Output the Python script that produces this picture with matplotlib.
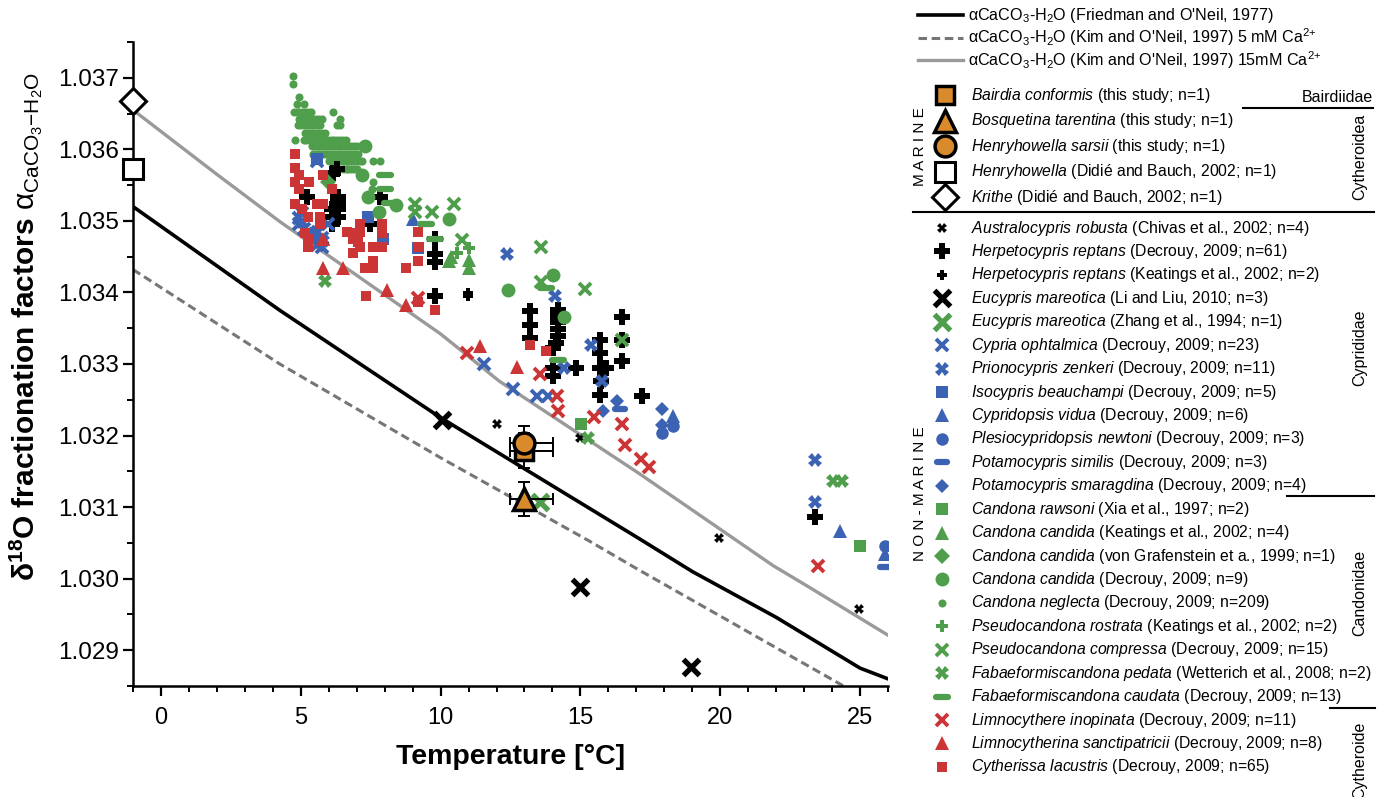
import matplotlib
matplotlib.use("Agg")
import matplotlib.pyplot as plt
from matplotlib.markers import MarkerStyle
from matplotlib.ticker import MultipleLocator, FormatStrFormatter

plt.rcParams["font.family"] = ["Liberation Sans", "DejaVu Sans"]
plt.rcParams["mathtext.fontset"] = "custom"
plt.rcParams["mathtext.rm"] = "Liberation Sans"
plt.rcParams["mathtext.it"] = "Liberation Sans:italic"
plt.rcParams["mathtext.bf"] = "Liberation Sans:bold"

# === equilibrium curves ===
friedman_t = [-1, 4.25, 10, 17.1, 19, 22, 25, 26]
friedman_a = [1.03520, 1.03375, 1.03225, 1.03056, 1.03010, 1.02946, 1.02875, 1.02860]
kim5_t = [-1, 4.25, 10, 15.3, 17.1, 24.5, 26]
kim5_a = [1.03432, 1.03300, 1.03169, 1.03053, 1.03012, 1.02848, 1.02815]
kim15_t = [-1, 2, 4.25, 10, 12.1, 17.1, 21.9, 23.1, 26]
kim15_a = [1.03655, 1.03565, 1.03499, 1.03342, 1.03276, 1.03147, 1.03018, 1.02990, 1.02921]

# === marine ostracods ===
bairdia_t, bairdia_a = [13.0], [1.03179]
bosq_t, bosq_a = [13.0], [1.03111]
henry_s_t, henry_s_a = [13.0], [1.03189]
henry_d_t, henry_d_a = [-1.0], [1.03572]
krithe_t, krithe_a = [-1.0], [1.03667]
err_t_low, err_t_high, err_a = 0.53, 1.02, 0.00024

# === non-marine ostracods ===
austro_t = [12.0, 14.98, 19.97, 24.97]
austro_a = [1.03216, 1.03196, 1.03057, 1.02958]
herp_d_t = [6.29, 6.17, 5.21, 6.34, 6.34, 6.34, 6.34, 6.11, 6.11, 6.11, 7.48, 7.83,
            9.80, 9.80, 9.80, 9.80, 13.21, 13.21, 13.21, 14.20, 14.20, 14.20, 14.20,
            14.20, 14.14, 14.02, 16.50, 15.69, 14.02, 14.02, 14.86, 15.69, 15.69,
            15.93, 15.75, 15.69, 16.50, 16.50, 17.21, 23.40]
herp_d_a = [1.03573, 1.03567, 1.03534, 1.03534, 1.03525, 1.03516, 1.03506, 1.03516,
            1.03506, 1.03495, 1.03495, 1.03533, 1.03474, 1.03454, 1.03443, 1.03395,
            1.03374, 1.03355, 1.03336, 1.03376, 1.03367, 1.03358, 1.03349, 1.03339,
            1.03330, 1.03323, 1.03365, 1.03334, 1.03295, 1.03283, 1.03294, 1.03316,
            1.03295, 1.03294, 1.03276, 1.03256, 1.03334, 1.03304, 1.03255, 1.03086]
herp_k_t = [10.97, 10.99]
herp_k_a = [1.03395, 1.03399]
euc_l_t = [10.05, 14.97, 18.96]
euc_l_a = [1.03222, 1.02988, 1.02877]
euc_z_t = [13.56]
euc_z_a = [1.03107]
cypria_t = [4.92, 4.92, 5.04, 5.10, 5.51, 5.63, 5.75, 5.99, 5.57, 5.57, 5.75, 11.55,
            12.59, 13.43, 13.84]
cypria_a = [1.03504, 1.03495, 1.03511, 1.03488, 1.03481, 1.03485, 1.03476, 1.03495,
            1.03583, 1.03467, 1.03464, 1.03300, 1.03265, 1.03255, 1.03255]
prion_t = [12.39, 14.08, 15.39, 14.40, 15.78, 23.39, 23.39, 5.04, 5.45, 5.80]
prion_a = [1.03454, 1.03395, 1.03327, 1.03294, 1.03276, 1.03166, 1.03107, 1.03499,
           1.03478, 1.03472]
iso_t = [7.42, 7.93, 9.20, 5.57]
iso_a = [1.03506, 1.03474, 1.03462, 1.03586]
vidua_t = [9.02, 18.31, 24.30, 25.90]
vidua_a = [1.03502, 1.03227, 1.03066, 1.03035]
newtoni_t = [17.93, 18.31, 25.90]
newtoni_a = [1.03204, 1.03213, 1.03046]
similis_t = [16.40, 25.90]
similis_a = [1.03237, 1.03017]
smarag_t = [15.81, 16.31, 17.93, 17.93]
smarag_a = [1.03235, 1.03248, 1.03237, 1.03215]
rawsoni_t = [15.03, 25.00]
rawsoni_a = [1.03216, 1.03046]
cand_k_t = [10.39, 11.02, 10.30, 11.02]
cand_k_a = [1.03449, 1.03434, 1.03444, 1.03446]
cand_v_t = [5.99]
cand_v_a = [1.03555]
cand_d_t = [7.30, 7.18, 7.42, 8.40, 7.81, 10.31, 12.42, 14.02, 14.40]
cand_d_a = [1.03604, 1.03564, 1.03534, 1.03522, 1.03513, 1.03503, 1.03404, 1.03424, 1.03365]
# Candona neglecta: points lie in dense rows, one alpha value per row
neglecta_rows_a = [1.03702, 1.03692, 1.03673, 1.03663, 1.03652, 1.03643, 1.03634,
                   1.03623, 1.03613, 1.03604, 1.03594, 1.03584, 1.03573, 1.03554, 1.03544]
neglecta_rows_t = [
    [4.71],
    [4.71],
    [4.92],
    [4.86, 5.10],
    [4.75, 4.85, 4.95, 5.05, 5.15, 5.25, 5.35, 6.14],
    [4.95, 5.05, 5.15, 5.25, 5.35, 5.45, 5.55, 5.65, 5.75, 6.40],
    [4.90, 5.00, 5.10, 5.20, 5.30, 5.40, 5.50, 5.60, 5.70, 6.30, 6.40],
    [5.15, 5.25, 5.35, 5.45, 5.55, 5.65, 5.75, 5.85],
    [4.80, 5.10, 5.20, 5.30, 5.40, 5.50, 5.60, 5.70, 5.80, 5.90, 6.00, 6.10, 6.20,
     6.30, 6.40, 6.50, 6.60],
    [5.40, 5.50, 5.60, 5.70, 5.80, 5.90, 6.00, 6.10, 6.20, 6.30, 6.40, 6.50, 6.60,
     6.70, 6.80, 6.90, 7.00],
    [5.45, 5.55, 5.65, 5.75, 5.85, 5.95, 6.05, 6.15, 6.25, 6.35, 6.45, 6.55, 6.65,
     6.75, 6.85, 6.95, 7.05],
    [6.00, 6.10, 6.20, 6.30, 6.40, 6.50, 6.60, 6.70, 6.80, 6.90, 7.00, 7.10, 7.20,
     7.60, 7.85],
    [6.50, 6.60, 6.70, 6.80, 6.90, 7.00],
    [7.60],
    [7.55],
]
rostr_t = [11.02, 10.57]
rostr_a = [1.03462, 1.03455]
compr_t = [9.08, 9.08, 9.70, 10.49, 10.78, 13.58, 13.58, 15.18, 16.50]
compr_a = [1.03523, 1.03512, 1.03513, 1.03523, 1.03473, 1.03464, 1.03414, 1.03405, 1.03334]
pedata_t = [5.87, 15.27, 24.05, 24.35]
pedata_a = [1.03416, 1.03196, 1.03137, 1.03137]
caudata_t = [8.01, 8.01, 8.19, 9.48, 9.80, 13.76, 14.20]
caudata_a = [1.03564, 1.03544, 1.03525, 1.03495, 1.03474, 1.03406, 1.03306]
inop_t = [9.19, 10.95, 13.55, 14.16, 14.20, 15.49, 16.49, 16.58, 17.18, 17.47, 23.49]
inop_a = [1.03392, 1.03315, 1.03286, 1.03255, 1.03235, 1.03226, 1.03216, 1.03187,
          1.03167, 1.03156, 1.03018]
sanct_t = [5.81, 5.81, 6.52, 8.10, 8.78, 11.40, 12.75]
sanct_a = [1.03474, 1.03434, 1.03434, 1.03403, 1.03383, 1.03325, 1.03296]
lacus_t = [4.80, 4.80, 4.92, 4.80, 5.31, 4.92, 5.81, 6.11, 4.80, 5.04, 5.57, 5.81,
           5.27, 5.69, 5.69, 5.15, 5.27, 5.27, 6.64, 6.94, 7.12, 7.12, 6.88, 7.06,
           7.12, 6.88, 7.59, 7.89, 7.89, 7.89, 7.59, 7.59, 7.30, 8.78, 9.20, 9.20,
           9.20, 9.20, 9.80, 7.35, 13.19, 13.78]
lacus_a = [1.03594, 1.03574, 1.03564, 1.03555, 1.03554, 1.03544, 1.03564, 1.03544,
           1.03523, 1.03516, 1.03523, 1.03523, 1.03505, 1.03505, 1.03495, 1.03483,
           1.03474, 1.03464, 1.03484, 1.03483, 1.03495, 1.03485, 1.03474, 1.03471,
           1.03464, 1.03455, 1.03464, 1.03464, 1.03495, 1.03483, 1.03444, 1.03434,
           1.03434, 1.03434, 1.03484, 1.03464, 1.03444, 1.03386, 1.03376, 1.03395,
           1.03327, 1.03318]

neglecta_t, neglecta_a = [], []
for a_row, t_row in zip(neglecta_rows_a, neglecta_rows_t):
    neglecta_t.extend(t_row)
    neglecta_a.extend([a_row] * len(t_row))

GREEN = "#4f9e4b"
BLUE = "#3b62b3"
RED = "#cc3535"
ORANGE = "#d98b2b"
DASH = MarkerStyle("_", capstyle="round")


def style(marker, ms, color, mew=0.0, edge=None, face=None):
    return dict(marker=marker, ms=ms, mfc=face or color, mec=edge or color,
                mew=mew, ls="none")


def entry_text(name, cite):
    return r"$\mathit{" + name.replace(" ", r"\ ") + "}$ " + cite


marine = [
    ("Bairdia conformis", "(this study; n=1)", bairdia_t, bairdia_a,
     style("s", 13, "black", mew=2.5, face=ORANGE)),
    ("Bosquetina tarentina", "(this study; n=1)", bosq_t, bosq_a,
     style("^", 16, "black", mew=2.5, face=ORANGE)),
    ("Henryhowella sarsii", "(this study; n=1)", henry_s_t, henry_s_a,
     style("o", 15, "black", mew=2.5, face=ORANGE)),
    ("Henryhowella", "(Didié and Bauch, 2002; n=1)", henry_d_t, henry_d_a,
     style("s", 15, "black", mew=2.2, face="white")),
    ("Krithe", "(Didié and Bauch, 2002; n=1)", krithe_t, krithe_a,
     style("D", 13, "black", mew=2.2, face="white")),
]

nonmarine = [
    ("Australocypris robusta", "(Chivas et al., 2002; n=4)", austro_t, austro_a, style("X", 7, "black")),
    ("Herpetocypris reptans", "(Decrouy, 2009; n=61)", herp_d_t, herp_d_a, style("P", 11, "black")),
    ("Herpetocypris reptans", "(Keatings et al., 2002; n=2)", herp_k_t, herp_k_a, style("P", 7, "black")),
    ("Eucypris mareotica", "(Li and Liu, 2010; n=3)", euc_l_t, euc_l_a, style("x", 12, "black", mew=3.8)),
    ("Eucypris mareotica", "(Zhang et al., 1994; n=1)", euc_z_t, euc_z_a, style("x", 12, GREEN, mew=3.8)),
    ("Cypria ophtalmica", "(Decrouy, 2009; n=23)", cypria_t, cypria_a, style("x", 8.5, BLUE, mew=2.8)),
    ("Prionocypris zenkeri", "(Decrouy, 2009; n=11)", prion_t, prion_a, style("X", 10, BLUE)),
    ("Isocypris beauchampi", "(Decrouy, 2009; n=5)", iso_t, iso_a, style("s", 8, BLUE)),
    ("Cypridopsis vidua", "(Decrouy, 2009; n=6)", vidua_t, vidua_a, style("^", 9.5, BLUE)),
    ("Plesiocypridopsis newtoni", "(Decrouy, 2009; n=3)", newtoni_t, newtoni_a, style("o", 9, BLUE)),
    ("Potamocypris similis", "(Decrouy, 2009; n=3)", similis_t, similis_a, style(DASH, 7.5, BLUE, mew=4.5)),
    ("Potamocypris smaragdina", "(Decrouy, 2009; n=4)", smarag_t, smarag_a, style("D", 7.5, BLUE)),
    ("Candona rawsoni", "(Xia et al., 1997; n=2)", rawsoni_t, rawsoni_a, style("s", 8, GREEN)),
    ("Candona candida", "(Keatings et al., 2002; n=4)", cand_k_t, cand_k_a, style("^", 10, GREEN)),
    ("Candona candida", "(von Grafenstein et a., 1999; n=1)", cand_v_t, cand_v_a, style("D", 8, GREEN)),
    ("Candona candida", "(Decrouy, 2009; n=9)", cand_d_t, cand_d_a, style("o", 10, GREEN)),
    ("Candona neglecta", "(Decrouy, 2009; n=209)", neglecta_t, neglecta_a, style("o", 5.8, GREEN)),
    ("Pseudocandona rostrata", "(Keatings et al., 2002; n=2)", rostr_t, rostr_a, style("P", 8, GREEN)),
    ("Pseudocandona compressa", "(Decrouy, 2009; n=15)", compr_t, compr_a, style("x", 8.5, GREEN, mew=2.8)),
    ("Fabaeformiscandona pedata", "(Wetterich et al., 2008; n=2)", pedata_t, pedata_a, style("X", 9.5, GREEN)),
    ("Fabaeformiscandona caudata", "(Decrouy, 2009; n=13)", caudata_t, caudata_a, style(DASH, 8.5, GREEN, mew=4.5)),
    ("Limnocythere inopinata", "(Decrouy, 2009; n=11)", inop_t, inop_a, style("x", 8.5, RED, mew=2.8)),
    ("Limnocytherina sanctipatricii", "(Decrouy, 2009; n=8)", sanct_t, sanct_a, style("^", 10, RED)),
    ("Cytherissa lacustris", "(Decrouy, 2009; n=65)", lacus_t, lacus_a, style("s", 7.5, RED)),
]

line_entries = [
    (r"αCaCO$_3$-H$_2$O (Friedman and O'Neil, 1977)", dict(color="black", lw=2.6)),
    (r"αCaCO$_3$-H$_2$O (Kim and O'Neil, 1997) 5 mM Ca$^{2{+}}$",
     dict(color="#767676", lw=2.2, ls=(0, (2.8, 1.5)))),
    (r"αCaCO$_3$-H$_2$O (Kim and O'Neil, 1997) 15mM Ca$^{2{+}}$",
     dict(color="#9a9a9a", lw=2.4)),
]

W, H = 1387, 797
fig = plt.figure(figsize=(W / 100, H / 100), dpi=100)
ax = fig.add_axes([133 / W, 1 - 686 / H, (888 - 133) / W, (686 - 42) / H])

# curves
ax.plot(friedman_t, friedman_a, zorder=2, **line_entries[0][1])
ax.plot(kim5_t, kim5_a, zorder=2, **line_entries[1][1])
ax.plot(kim15_t, kim15_a, zorder=2, **line_entries[2][1])

# non-marine data, neglecta first so the other symbols sit on top
order = [16] + [i for i in range(len(nonmarine)) if i != 16]
for i in order:
    name, cite, t, a, st = nonmarine[i]
    ax.plot(t, a, zorder=3, **st)

# marine data with error bars
for t, a in [(bosq_t, bosq_a), (bairdia_t, bairdia_a), (henry_s_t, henry_s_a)]:
    ax.errorbar(t, a, xerr=[[err_t_low], [err_t_high]], yerr=err_a, fmt="none",
                ecolor="black", elinewidth=1.4, capsize=4.5, capthick=1.4, zorder=4)
for name, cite, t, a, st in marine:
    ax.plot(t, a, zorder=5, clip_on=False, **st)

ax.set_xlim(-1, 26)
ax.set_ylim(1.0285, 1.0375)
ax.xaxis.set_major_locator(MultipleLocator(5))
ax.xaxis.set_minor_locator(MultipleLocator(1))
ax.yaxis.set_major_locator(MultipleLocator(0.001))
ax.yaxis.set_minor_locator(MultipleLocator(0.0005))
ax.yaxis.set_major_formatter(FormatStrFormatter("%.3f"))
for side in ["top", "right"]:
    ax.spines[side].set_visible(False)
for side in ["left", "bottom"]:
    ax.spines[side].set_linewidth(1.8)
ax.tick_params(which="major", direction="out", length=7, width=1.6, labelsize=17.5)
ax.tick_params(which="minor", direction="out", length=4, width=1.4)
ax.tick_params(axis="x", which="major", pad=8, labelsize=17)
ax.tick_params(axis="y", which="major", pad=3)
ax.set_xlabel("Temperature [°C]", fontsize=20.5, fontweight="bold", labelpad=11)

# overlay in pixel coordinates for the custom legend and labels
lax = fig.add_axes([0, 0, 1, 1], facecolor="none")
lax.set_xlim(0, W)
lax.set_ylim(H, 0)
lax.axis("off")

lax.text(26, 326,
         r"$\mathbf{\delta^{18}O\ fractionation\ factors}\ \mathrm{\alpha}_{\mathrm{CaCO_3{-}H_2O}}$",
         rotation=90, ha="center", va="center", fontsize=21.5)

for i, (label, kw) in enumerate(line_entries):
    y = 15 + 22.5 * i
    lax.plot([918, 963], [y, y], **kw)
    lax.text(968, y, label, fontsize=11.6, va="center")

for i, (name, cite, t, a, st) in enumerate(marine):
    y = 95 + 25.5 * i
    lax.plot([945], [y], clip_on=False, **st)
    lax.text(971, y, entry_text(name, cite), fontsize=11.3, va="center")

for i, (name, cite, t, a, st) in enumerate(nonmarine):
    y = 228 + 23.43 * i
    lax.plot([942], [y], clip_on=False, **st)
    lax.text(971, y, entry_text(name, cite), fontsize=11.3, va="center")

# group labels and separators
sep = dict(color="black", lw=1.5)
lax.plot([1243, 1373], [108, 108], **sep)
lax.plot([913, 1374], [212, 212], **sep)
lax.plot([1287, 1374], [496, 496], **sep)
lax.plot([1330, 1375], [708, 708], **sep)
lax.text(1373, 97, "Bairdiidae", fontsize=11.5, ha="right", va="center")
lax.text(1360, 157, "Cytheroidea", fontsize=11.5, rotation=90, ha="center", va="center")
lax.text(1360, 348, "Cyprididae", fontsize=11.5, rotation=90, ha="center", va="center")
lax.text(1360, 593, "Candonidae", fontsize=11.5, rotation=90, ha="center", va="center")
lax.text(1360, 722, "Cytheroide", fontsize=11.5, rotation=90, ha="center", va="top")
lax.text(920, 147, "M A R I N E", fontsize=11, rotation=90, ha="center", va="center")
lax.text(920, 494, "N O N - M A R I N E", fontsize=11, rotation=90, ha="center", va="center")

fig.savefig("out.png", dpi=100)
